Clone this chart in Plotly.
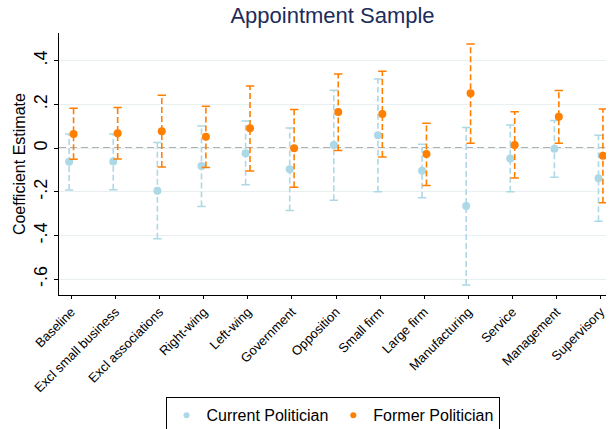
import plotly.graph_objects as go

categories = ["Baseline", "Excl small business", "Excl associations", "Right-wing", "Left-wing",
              "Government", "Opposition", "Small firm", "Large firm", "Manufacturing",
              "Service", "Management", "Supervisory"]

current_est = [-0.062, -0.061, -0.195, -0.082, -0.023, -0.097, 0.015, 0.059, -0.103, -0.265, -0.047, -0.003, -0.138]
current_lo = [-0.191, -0.190, -0.414, -0.267, -0.167, -0.285, -0.238, -0.200, -0.227, -0.626, -0.200, -0.133, -0.335]
current_hi = [0.065, 0.065, 0.026, 0.101, 0.124, 0.092, 0.265, 0.317, 0.018, 0.095, 0.106, 0.127, 0.059]

former_est = [0.065, 0.068, 0.077, 0.052, 0.091, 0.000, 0.165, 0.156, -0.027, 0.251, 0.015, 0.144, -0.035]
former_lo = [-0.051, -0.050, -0.086, -0.089, -0.104, -0.179, -0.011, -0.041, -0.171, 0.023, -0.136, 0.023, -0.250]
former_hi = [0.183, 0.186, 0.242, 0.192, 0.285, 0.177, 0.339, 0.352, 0.114, 0.477, 0.167, 0.264, 0.179]

y_tickvals = [-0.6, -0.4, -0.2, 0, 0.2, 0.4]
y_ticktext = ["-.6", "-.4", "-.2", "0", ".2", ".4"]

BLUE = "#add8e6"
ORANGE = "#ff7f00"
FONT = "Liberation Sans, Arial, sans-serif"

fig = go.Figure()

def add_series(name, est, lo, hi, color, offset):
    xs = [i + offset for i in range(len(est))]
    lx, ly = [], []
    for x, a, b in zip(xs, lo, hi):
        lx += [x, x, None]
        ly += [a, b, None]
    fig.add_trace(go.Scatter(x=lx, y=ly, mode="lines", showlegend=False, hoverinfo="skip",
                             line=dict(color=color, width=1.6, dash="6px,3px")))
    fig.add_trace(go.Scatter(x=xs + xs, y=lo + hi, mode="markers", showlegend=False, hoverinfo="skip",
                             marker=dict(symbol="line-ew", size=6, line=dict(color=color, width=1.5))))
    fig.add_trace(go.Scatter(x=xs, y=est, mode="markers", name=name, showlegend=False,
                             marker=dict(color=color, size=8)))
    # legend entry with a small marker, as in the reference
    fig.add_trace(go.Scatter(x=[None], y=[None], mode="markers", name=name,
                             marker=dict(color=color, size=6)))

add_series("Current Politician", current_est, current_lo, current_hi, BLUE, -0.05)
add_series("Former Politician", former_est, former_lo, former_hi, ORANGE, 0.05)

fig.add_hline(y=0, line=dict(color="#606060", width=1.5, dash="7px,4px"), layer="below")

fig.update_layout(
    width=610, height=429,
    margin=dict(l=59, r=2, t=33, b=132),
    paper_bgcolor="white", plot_bgcolor="white",
    font=dict(family=FONT, color="black"),
    title=dict(text="Appointment Sample", xref="paper", x=0.5, xanchor="center",
               yref="container", y=0.982, yanchor="top",
               font=dict(size=22, color="#1c2c5b", family=FONT)),
    xaxis=dict(range=[-0.28, 12.12], tickmode="array", tickvals=list(range(len(categories))),
               ticktext=categories, tickangle=-45, tickfont=dict(size=13),
               showgrid=False, zeroline=False, showline=True, linecolor="black", linewidth=1,
               ticks="outside", ticklen=3, tickcolor="black"),
    yaxis=dict(range=[-0.673, 0.527], tickmode="array", tickvals=y_tickvals, ticktext=y_ticktext,
               tickangle=-90, tickfont=dict(size=18),
               title=dict(text="Coefficient Estimate", font=dict(size=16), standoff=1),
               showgrid=True, gridcolor="#e8f0f2", gridwidth=1, zeroline=False,
               showline=True, linecolor="black", linewidth=1,
               ticks="outside", ticklen=4, tickcolor="black"),
    legend=dict(orientation="h", xref="paper", x=0.5, xanchor="center",
                yref="container", y=0.074, yanchor="top",
                bordercolor="black", borderwidth=1, font=dict(size=16),
                itemwidth=30, tracegroupgap=0),
    showlegend=True,
)

fig.write_html("out.html", config={"displayModeBar": False},
               post_script="document.body.style.margin='0px';")
